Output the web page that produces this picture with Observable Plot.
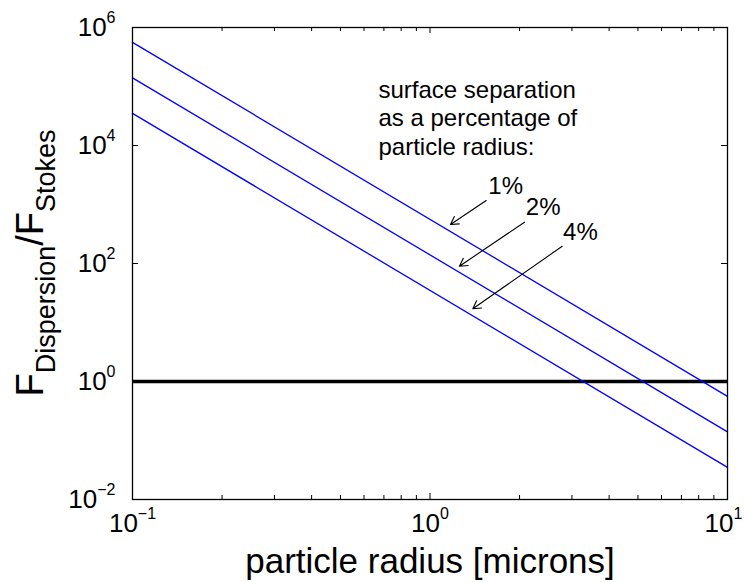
<!DOCTYPE html>
<html><head><meta charset="utf-8">
<script src="https://cdn.jsdelivr.net/npm/d3@7"></script>
<script src="https://cdn.jsdelivr.net/npm/@observablehq/plot@0.6"></script>
<style>body{margin:0;background:#fff;} svg{display:block;}</style>
</head><body><div id="chart"></div>
<script>
// ---- data ----
const radiusEnds = [0.1, 10];            // particle radius [microns]
const sep1 = [5.6e5, 0.56];              // 1% separation
const sep2 = [1.4e5, 0.14];              // 2% separation
const sep4 = [3.5e4, 0.035];             // 4% separation
const seriesNames = ["1%", "2%", "4%"];
const unityLevel = [1];
const labelX = [1.57, 2.1, 2.8];
const labelY = [1517, 651, 246];
const arrowX1 = [1.545, 2.078, 2.782];
const arrowY1 = [1170, 501, 196];
const arrowX2 = [1.172, 1.256, 1.393];
const arrowY2 = [458, 90, 17.1];
const noteLines = ["surface separation", "as a percentage of", "particle radius:"];
const noteX = [0.671];
const noteY = [1.37e5];
const xTicks = [0.1, 1, 10];
const xMinor = [0.2, 0.3, 0.4, 0.5, 0.6, 0.7, 0.8, 0.9, 2, 3, 4, 5, 6, 7, 8, 9];
const yTicks = [1e-2, 1, 1e2, 1e4, 1e6];
const xLabel = "particle radius [microns]";

// ---- build tables ----
const seriesVals = [sep1, sep2, sep4];
const rows = seriesNames.flatMap((s, i) => radiusEnds.map((r, j) => ({s, r, v: seriesVals[i][j]})));
const arrows = seriesNames.map((s, i) => ({x1: arrowX1[i], y1: arrowY1[i], x2: arrowX2[i], y2: arrowY2[i]}));
const labels = seriesNames.map((s, i) => ({s, x: labelX[i], y: labelY[i]}));

const W = 744, H = 582, mL = 132, mR = 17, mT = 27, mB = 83;
const iw = W - mL - mR, ih = H - mT - mB;
const font = "Liberation Sans, Arial, Helvetica, sans-serif";

const svg = Plot.plot({
  width: W, height: H,
  marginLeft: mL, marginRight: mR, marginTop: mT, marginBottom: mB,
  style: {fontFamily: font, background: "#fff", color: "#000"},
  x: {type: "log", domain: [0.1, 10]},
  y: {type: "log", domain: [1e-2, 1e6]},
  marks: [
    Plot.ruleY(unityLevel, {y: d => d, stroke: "black", strokeWidth: 3.5}),
    Plot.line(rows, {x: "r", y: "v", z: "s", stroke: "#0000ff", strokeWidth: 1.3}),
    Plot.frame({stroke: "black", strokeWidth: 1.3}),
    // inward ticks
    Plot.tickY(yTicks, {y: d => d, insetRight: iw - 6, stroke: "black"}),
    Plot.tickY(yTicks, {y: d => d, insetLeft: iw - 6, stroke: "black"}),
    Plot.tickX(xTicks, {x: d => d, insetTop: ih - 6, stroke: "black"}),
    Plot.tickX(xTicks, {x: d => d, insetBottom: ih - 6, stroke: "black"}),
    Plot.tickX(xMinor, {x: d => d, insetTop: ih - 4, stroke: "black"}),
    Plot.tickX(xMinor, {x: d => d, insetBottom: ih - 4, stroke: "black"}),
    Plot.axisY(yTicks, {tickSize: 0, tickPadding: 17, tickFormat: d => String(Math.round(Math.log10(d))), label: null}),
    Plot.axisX(xTicks, {tickSize: 0, tickPadding: 14, tickFormat: d => String(Math.round(Math.log10(d))), label: null}),
    Plot.arrow(arrows, {x1: "x1", y1: "y1", x2: "x2", y2: "y2", stroke: "black", strokeWidth: 1.1, headLength: 12}),
    Plot.text(labels, {x: "x", y: "y", text: "s", textAnchor: "start", lineAnchor: "bottom", fontSize: 24, fill: "black"}),
    Plot.text([noteLines.join("\n")], {x: () => noteX[0], y: () => noteY[0], text: d => d, textAnchor: "start", lineAnchor: "top", lineHeight: 1.17, fontSize: 24, fill: "black"}),
    Plot.text([xLabel], {text: d => d, frameAnchor: "bottom", lineAnchor: "bottom", dy: 73, fontSize: 35, fill: "black"})
  ]
});

// superscript exponents on tick labels
d3.select(svg).selectAll('g[aria-label="y-axis tick label"] text, g[aria-label="x-axis tick label"] text').each(function() {
  const e = this.textContent.replace("-", "\u2212");
  this.textContent = "";
  const t = d3.select(this).attr("font-size", 26).style("font-size", "26px");
  t.append("tspan").text("10");
  t.append("tspan").attr("dy", -13).attr("font-size", 16).style("font-size", "16px").text(e);
  if (e === "1") t.attr("dx", -4);
});

// y-axis label with subscripts
const yl = d3.select(svg).append("text")
  .attr("transform", `translate(43,${mT + ih / 2}) rotate(-90)`)
  .attr("text-anchor", "middle").attr("font-family", font).attr("font-size", 38).attr("fill", "black");
yl.append("tspan").text("F");
yl.append("tspan").attr("dy", 12).attr("font-size", 27).text("Dispersion");
yl.append("tspan").attr("dy", -12).text("/F");
yl.append("tspan").attr("dy", 12).attr("font-size", 27).text("Stokes");

document.getElementById("chart").appendChild(svg);
</script>
</body></html>
